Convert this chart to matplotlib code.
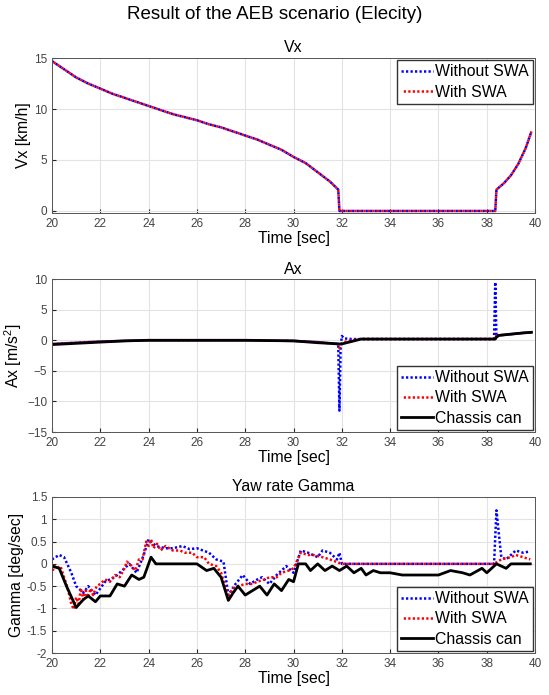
import matplotlib
matplotlib.use('Agg')
import matplotlib.pyplot as plt
import numpy as np

plt.rcParams['font.family'] = ['Liberation Sans', 'DejaVu Sans']
plt.rcParams['mathtext.fontset'] = 'custom'
plt.rcParams['mathtext.rm'] = 'Liberation Sans'

# Vx [km/h] (both cases practically identical)
t_vx = [20, 20.5, 21, 21.5, 22, 22.5, 23, 23.5, 24, 24.5, 25, 25.5, 26, 26.5, 27, 27.5, 28, 28.5,
        29, 29.5, 30, 30.5, 31, 31.5, 31.85, 31.9, 32.5, 34, 36, 38.35, 38.4, 38.7, 39, 39.3, 39.6, 39.85]
vx_without = [14.7, 13.9, 13.1, 12.5, 12.0, 11.5, 11.1, 10.7, 10.3, 9.9, 9.5, 9.2, 8.9, 8.5, 8.2, 7.8, 7.4, 7.0,
              6.5, 6.0, 5.3, 4.7, 3.8, 2.9, 2.1, 0.0, 0.0, 0.0, 0.0, 0.0, 2.1, 2.7, 3.5, 4.6, 6.1, 7.8]
vx_with = [14.7, 13.9, 13.1, 12.5, 12.0, 11.5, 11.1, 10.7, 10.3, 9.9, 9.5, 9.2, 8.9, 8.5, 8.2, 7.8, 7.4, 7.0,
           6.5, 6.0, 5.3, 4.7, 3.8, 2.9, 2.1, 0.0, 0.0, 0.0, 0.0, 0.0, 2.1, 2.7, 3.5, 4.6, 6.1, 7.8]

# Ax [m/s^2]
t_ax = [20, 21, 22, 23, 24, 26, 28, 30, 31, 31.5, 31.85, 31.9, 31.95, 32.0, 32.1, 32.4, 32.8, 34, 36,
        38.3, 38.35, 38.4, 38.5, 39, 39.5, 39.85]
ax_without = [-0.6, -0.4, -0.2, -0.1, 0.0, 0.0, 0.0, -0.1, -0.3, -0.5, -0.6, -11.5, -1.0, 0.7, 0.3, 0.2, 0.2, 0.2, 0.2,
              0.2, 9.5, 0.6, 0.8, 1.0, 1.2, 1.3]
ax_with = [-0.6, -0.4, -0.2, -0.1, 0.0, 0.0, 0.0, -0.1, -0.3, -0.5, -0.6, -1.3, -0.8, -0.5, -0.3, 0.0, 0.2, 0.2, 0.2,
           0.2, 0.2, 0.8, 0.8, 1.0, 1.2, 1.3]
ax_can = [-0.7, -0.5, -0.3, -0.1, 0.0, 0.0, 0.0, -0.1, -0.4, -0.5, -0.6, -0.6, -0.6, -0.6, -0.5, -0.2, 0.2, 0.2, 0.2,
          0.2, 0.2, 0.5, 0.8, 1.0, 1.2, 1.3]

# Yaw rate Gamma [deg/sec]
t_g_can = [20, 20.3, 20.6, 21.0, 21.3, 21.5, 21.8, 22.0, 22.4, 22.7, 23.0, 23.3, 23.6, 23.8, 24.1, 24.3, 26.0,
           26.4, 26.7, 27.0, 27.3, 27.5, 27.7, 28.0, 28.3, 28.6, 28.9, 29.2, 29.5, 29.8, 30.0, 30.2, 30.5, 30.7,
           31.0, 31.3, 31.6, 31.9, 32.2, 32.5, 32.8, 33.0, 33.3, 33.6, 34.0, 34.5, 36.0, 36.5, 37.0, 37.3, 37.8,
           38.0, 38.4, 38.8, 39.0, 39.8]
g_can = [-0.05, -0.1, -0.5, -0.98, -0.8, -0.72, -0.85, -0.72, -0.72, -0.45, -0.5, -0.25, -0.35, -0.3, 0.15, 0.0, 0.0,
         -0.15, -0.1, -0.3, -0.82, -0.65, -0.5, -0.7, -0.6, -0.5, -0.7, -0.45, -0.6, -0.35, -0.4, 0.0, 0.0, -0.15,
         0.0, -0.15, -0.05, -0.15, -0.05, -0.2, -0.1, -0.25, -0.15, -0.2, -0.2, -0.25, -0.25, -0.15, -0.2, -0.25, -0.1,
         -0.2, 0.0, -0.1, 0.0, 0.0]

t_g_without = [20, 20.3, 20.5, 20.8, 21.0, 21.3, 21.5, 21.8, 22.2, 22.6, 23.0, 23.2, 23.5, 23.8, 24.0, 24.3, 24.7,
               25.0, 25.4, 25.7, 26.0, 26.5, 26.8, 27.1, 27.3, 27.6, 27.9, 28.2, 28.5, 28.7, 29.0, 29.3, 29.7,
               30.0, 30.3, 30.6, 31.0, 31.2, 31.5, 31.8, 31.9, 32.0, 34.0, 36.0, 38.3, 38.4, 38.6, 38.8, 39.2, 39.5,
               39.8]
g_without = [0.1, 0.2, 0.15, -0.2, -0.5, -0.65, -0.5, -0.7, -0.4, -0.3, -0.1, 0.0, -0.2, 0.2, 0.55, 0.4, 0.35,
             0.35, 0.4, 0.33, 0.35, 0.25, 0.1, 0.05, -0.7, -0.45, -0.25, -0.45, -0.35, -0.3, -0.45, -0.25, -0.05,
             -0.2, 0.3, 0.25, 0.15, 0.3, 0.25, 0.1, 0.25, 0.0, 0.0, 0.0, 0.0, 1.2, 0.15, 0.1, 0.3, 0.25, 0.28]

t_g_with = [20, 20.1, 20.2, 20.35, 20.5, 20.65, 20.8, 20.9, 21.0, 21.1, 21.2, 21.3, 21.4, 21.5, 21.6, 21.7, 21.85,
            22.0, 22.2, 22.4, 22.6, 22.8, 23.0, 23.1, 23.3, 23.45, 23.6, 23.75, 23.9, 24.0, 24.1, 24.2, 24.35,
            24.5, 24.7, 25.0, 25.3, 25.5, 25.8, 26.0, 26.3, 26.5, 26.8, 27.0, 27.3, 27.5, 27.7, 28.0, 28.3, 28.5,
            28.8, 29.0, 29.3, 29.5, 29.8, 30.0, 30.3, 30.6, 30.8, 31.2, 31.5, 32.0, 34.0, 36.0, 38.3, 38.6, 39.0,
            39.2, 39.5, 39.8]
g_with = [-0.2, -0.05, -0.1, -0.05, -0.3, -0.55, -0.9, -1.02, -0.75, -0.9, -0.55, -0.8, -0.6, -0.75, -0.55, -0.7,
          -0.5, -0.45, -0.35, -0.4, -0.25, -0.3, -0.1, 0.05, -0.05, -0.15, 0.1, 0.1, 0.5, 0.4, 0.55, 0.35, 0.45,
          0.3, 0.4, 0.3, 0.3, 0.25, 0.25, 0.15, 0.15, 0.0, -0.05, -0.2, -0.75, -0.55, -0.5, -0.45, -0.45, -0.4,
          -0.35, -0.3, -0.3, -0.2, -0.15, -0.1, 0.25, 0.2, 0.2, 0.15, 0.1, 0.0, 0.0, 0.0, 0.0, 0.1, 0.15,
          0.2, 0.15, 0.1]

fig = plt.figure(figsize=(5.49, 6.95), dpi=100)
fig.suptitle('Result of the AEB scenario (Elecity)', fontsize=13.5, y=0.992)

axcol = '#262626'
dots_b = (0, (0.9, 0.9))
dots_r = (0.9, (0.9, 0.9))  # shifted so overlapping dots alternate
positions = [
    [0.0947, 0.6935, 0.880, 0.223],
    [0.0947, 0.3784, 0.880, 0.220],
    [0.0947, 0.0604, 0.880, 0.2245],
]
leg_kw = dict(fontsize=11.4, handlelength=2.0, handletextpad=0.15, borderpad=0.25,
              labelspacing=0.33, fancybox=False, edgecolor='#333333', framealpha=1, borderaxespad=0.15)


def style(ax, title, ylabel, ylim, yticks):
    ax.set_xlim(20, 40)
    ax.set_xticks(np.arange(20, 41, 2))
    ax.set_ylim(*ylim)
    ax.set_yticks(yticks)
    ax.grid(True, color='#e3e3e3', linewidth=0.8)
    ax.set_axisbelow(True)
    ax.tick_params(direction='in', labelsize=8.5, colors=axcol, labelcolor='#444444', length=3)
    for s in ax.spines.values():
        s.set_color('#555555')
        s.set_linewidth(0.7)
    ax.set_title(title, fontsize=11.4, pad=4)
    ax.set_xlabel('Time [sec]', fontsize=11.3, labelpad=1)
    ax.set_ylabel(ylabel, fontsize=11.3, labelpad=2)


ax1 = fig.add_axes(positions[0])
ax1.plot(t_vx, vx_without, color='#0000ff', linestyle=dots_b, linewidth=1.8, label='Without SWA')
ax1.plot(t_vx, vx_with, color='#ff0000', linestyle=dots_r, linewidth=1.8, label='With SWA')
style(ax1, 'Vx', 'Vx [km/h]', (-0.2, 15), [0, 5, 10, 15])
ax1.legend(loc='upper right', **leg_kw)

ax2 = fig.add_axes(positions[1])
ax2.plot(t_ax, ax_without, color='#0000ff', linestyle=dots_b, linewidth=1.8, label='Without SWA')
ax2.plot(t_ax, ax_with, color='#ff0000', linestyle=dots_r, linewidth=1.8, label='With SWA')
ax2.plot(t_ax, ax_can, color='black', linewidth=2, label='Chassis can')
style(ax2, 'Ax', 'Ax [m/s$^2$]', (-15, 10), [-15, -10, -5, 0, 5, 10])
ax2.legend(loc='lower right', **leg_kw)

ax3 = fig.add_axes(positions[2])
ax3.plot(t_g_without, g_without, color='#0000ff', linestyle=dots_b, linewidth=1.8, label='Without SWA')
ax3.plot(t_g_with, g_with, color='#ff0000', linestyle=dots_r, linewidth=1.8, label='With SWA')
ax3.plot(t_g_can, g_can, color='black', linewidth=2, label='Chassis can')
style(ax3, 'Yaw rate Gamma', 'Gamma [deg/sec]', (-2, 1.5), [-2, -1.5, -1, -0.5, 0, 0.5, 1, 1.5])
ax3.set_yticklabels(['-2', '-1.5', '-1', '-0.5', '0', '0.5', '1', '1.5'])
ax3.legend(loc='lower right', **leg_kw)

fig.savefig('out.png', dpi=100)
